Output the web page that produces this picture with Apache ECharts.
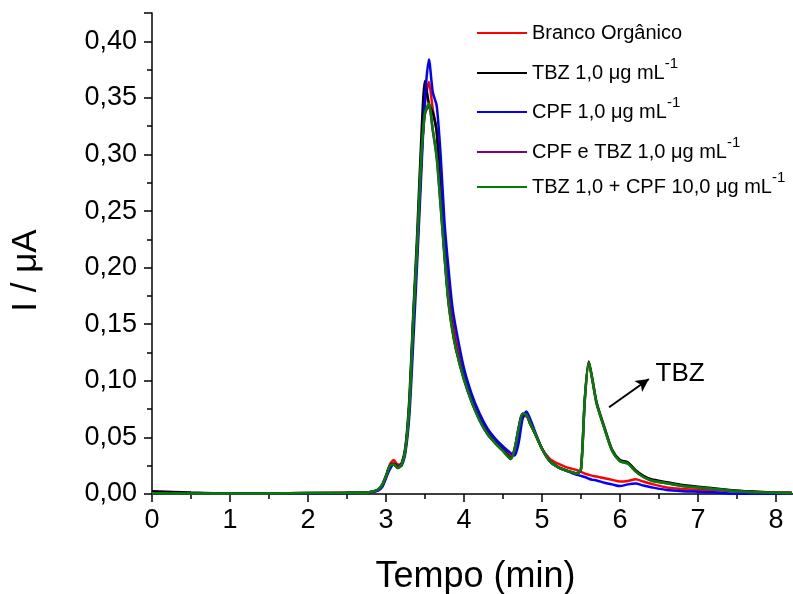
<!DOCTYPE html>
<html><head><meta charset="utf-8">
<script src="https://cdn.jsdelivr.net/npm/echarts@6/dist/echarts.min.js"></script>
<style>html,body{margin:0;padding:0;background:#fff}#c{width:793px;height:594px}</style>
</head><body><div id="c"></div>
<script>
const tempo = [0, 0.5, 1.0, 1.5, 2.0, 2.5, 2.7, 2.8, 2.9, 2.95, 3.0, 3.05, 3.1, 3.15, 3.2, 3.25, 3.3, 3.35, 3.4, 3.45, 3.5, 3.55, 3.6, 3.65, 3.7, 3.75, 3.8, 3.85, 3.9, 4.0, 4.1, 4.2, 4.3, 4.4, 4.5, 4.6, 4.65, 4.7, 4.75, 4.8, 4.85, 4.9, 5.0, 5.1, 5.2, 5.3, 5.4, 5.45, 5.5, 5.55, 5.6, 5.65, 5.7, 5.8, 5.9, 6.0, 6.1, 6.2, 6.3, 6.4, 6.6, 6.8, 7.0, 7.2, 7.4, 7.6, 7.8, 8.0, 8.2];

const branco = [0.0003, 0.0003, 0.0002, 0.0004, 0.0006, 0.001, 0.0012, 0.0016, 0.0035, 0.007, 0.015, 0.026, 0.030, 0.026, 0.027, 0.040, 0.078, 0.150, 0.215, 0.290, 0.345, 0.364, 0.340, 0.320, 0.280, 0.225, 0.185, 0.158, 0.135, 0.106, 0.086, 0.069, 0.056, 0.047, 0.040, 0.034, 0.036, 0.052, 0.068, 0.069, 0.062, 0.055, 0.040, 0.031, 0.027, 0.024, 0.022, 0.021, 0.0195, 0.018, 0.017, 0.016, 0.0155, 0.014, 0.0125, 0.011, 0.0115, 0.013, 0.011, 0.009, 0.0058, 0.0045, 0.0038, 0.0033, 0.0027, 0.0022, 0.0017, 0.0012, 0.001];

const tbz = [0.0025, 0.0013, 0.0004, 0.0005, 0.0008, 0.001, 0.0012, 0.0018, 0.004, 0.008, 0.016, 0.025, 0.027, 0.024, 0.027, 0.042, 0.085, 0.160, 0.230, 0.310, 0.365, 0.345, 0.337, 0.320, 0.262, 0.213, 0.172, 0.147, 0.128, 0.102, 0.082, 0.066, 0.054, 0.046, 0.039, 0.032, 0.040, 0.058, 0.071, 0.070, 0.062, 0.055, 0.040, 0.029, 0.024, 0.021, 0.019, 0.018, 0.022, 0.085, 0.117, 0.100, 0.081, 0.059, 0.039, 0.030, 0.028, 0.021, 0.016, 0.013, 0.0105, 0.008, 0.0065, 0.005, 0.0035, 0.0025, 0.0018, 0.0012, 0.001];

const cpf = [0.0003, 0.0002, 0.0002, 0.0003, 0.0005, 0.0008, 0.001, 0.0014, 0.003, 0.006, 0.014, 0.022, 0.026, 0.024, 0.025, 0.037, 0.070, 0.135, 0.205, 0.280, 0.350, 0.384, 0.355, 0.343, 0.300, 0.240, 0.200, 0.166, 0.145, 0.111, 0.088, 0.071, 0.058, 0.049, 0.042, 0.036, 0.034, 0.045, 0.066, 0.073, 0.066, 0.057, 0.040, 0.029, 0.024, 0.021, 0.018, 0.017, 0.016, 0.015, 0.0135, 0.0125, 0.012, 0.010, 0.0085, 0.007, 0.0085, 0.0092, 0.0075, 0.006, 0.0035, 0.0025, 0.002, 0.0015, 0.0005, 0.0003, 0.0002, 0.0002, 0.0002];

const cpfTbz = [0.0006, 0.0005, 0.0004, 0.0005, 0.0008, 0.001, 0.0012, 0.0018, 0.004, 0.008, 0.016, 0.025, 0.026, 0.023, 0.026, 0.040, 0.080, 0.155, 0.220, 0.295, 0.336, 0.343, 0.321, 0.297, 0.255, 0.210, 0.170, 0.145, 0.127, 0.101, 0.081, 0.065, 0.053, 0.045, 0.038, 0.031, 0.040, 0.058, 0.071, 0.070, 0.062, 0.055, 0.040, 0.029, 0.024, 0.021, 0.019, 0.018, 0.022, 0.085, 0.116, 0.099, 0.080, 0.058, 0.038, 0.029, 0.027, 0.020, 0.015, 0.012, 0.0095, 0.007, 0.0058, 0.0045, 0.003, 0.002, 0.0015, 0.001, 0.0008];

const tbzCpf10 = [0.0006, 0.0005, 0.0004, 0.0005, 0.0008, 0.001, 0.0012, 0.0018, 0.004, 0.008, 0.016, 0.025, 0.026, 0.023, 0.026, 0.040, 0.080, 0.155, 0.220, 0.295, 0.337, 0.345, 0.322, 0.298, 0.255, 0.210, 0.170, 0.145, 0.127, 0.101, 0.081, 0.065, 0.053, 0.045, 0.038, 0.031, 0.040, 0.058, 0.071, 0.070, 0.062, 0.055, 0.040, 0.029, 0.024, 0.021, 0.019, 0.018, 0.022, 0.085, 0.116, 0.099, 0.080, 0.058, 0.038, 0.029, 0.027, 0.020, 0.015, 0.012, 0.0095, 0.007, 0.0058, 0.0045, 0.003, 0.002, 0.0015, 0.001, 0.0008];

const seriesNames = ['Branco Orgânico', 'TBZ 1,0 μg mL-1', 'CPF 1,0 μg mL-1', 'CPF e TBZ 1,0 μg mL-1', 'TBZ 1,0 + CPF 10,0 μg mL-1'];
const seriesValues = [branco, tbz, cpf, cpfTbz, tbzCpf10];
const seriesColors = ['#ff0000', '#000000', '#0000ff', '#800080', '#008000'];

const arrowFrom = [5.86, 0.0766];
const arrowTo = [6.37, 0.1016];
const annotationPos = [6.77, 0.106];
const annotationText = 'TBZ';

const FONT = '"Liberation Sans", Arial, sans-serif';
const legendRowCenters = [33, 73, 112, 152, 187];

const chart = echarts.init(document.getElementById('c'), null, {renderer: 'canvas'});

const series = seriesNames.map((name, i) => {
  const s = {
    name: name,
    type: 'line',
    data: tempo.map((t, k) => [t, seriesValues[i][k]]),
    showSymbol: false,
    symbol: 'none',
    smooth: 0.25,
    lineStyle: {color: seriesColors[i], width: 2.5},
    itemStyle: {color: seriesColors[i]},
    z: 2 + i,
    animation: false
  };
  if (i === 4) {
    s.markLine = {
      silent: true,
      symbol: ['none', 'arrow'],
      symbolSize: [10, 13],
      label: {show: false},
      lineStyle: {color: '#000', width: 2, type: 'solid'},
      data: [[{coord: arrowFrom}, {coord: arrowTo}]],
      animation: false
    };
    s.markPoint = {
      silent: true,
      symbol: 'circle',
      symbolSize: 0,
      data: [{coord: annotationPos, value: annotationText}],
      label: {show: true, position: 'inside', formatter: annotationText, fontSize: 26, color: '#000', fontFamily: FONT},
      animation: false
    };
  }
  return s;
});

const legends = seriesNames.map((name, i) => ({
  data: [name],
  left: 477,
  top: legendRowCenters[i] - 17,
  orient: 'vertical',
  padding: 0,
  itemWidth: 50,
  itemHeight: 2,
  icon: 'rect',
  selectedMode: false,
  formatter: n => n.replace(/-1$/, '{s|-1}'),
  textStyle: {
    fontSize: 20, lineHeight: 34, color: '#000', fontFamily: FONT,
    rich: {s: {fontSize: 15, lineHeight: 14, verticalAlign: 'top', color: '#000', fontFamily: FONT}}
  }
}));

chart.setOption({
  animation: false,
  backgroundColor: '#fff',
  legend: legends,
  grid: {left: 152, top: 13, right: -22, bottom: 100, containLabel: false, outerBoundsMode: 'none'},
  xAxis: {
    type: 'value', min: 0, max: 8.5, interval: 1,
    name: 'Tempo (min)', nameLocation: 'middle', nameGap: 65,
    nameTextStyle: {fontSize: 36, color: '#000', fontFamily: FONT, padding: [0, 16, 0, 0]},
    axisLine: {show: true, onZero: false, lineStyle: {color: '#000', width: 1.5}},
    axisTick: {show: true, length: 8, lineStyle: {color: '#000', width: 1.5}},
    minorTick: {show: true, splitNumber: 2, length: 5, lineStyle: {color: '#000', width: 1.5}},
    splitLine: {show: false},
    axisLabel: {fontSize: 27, color: '#000', fontFamily: FONT, margin: 13, showMaxLabel: false, formatter: v => String(v)}
  },
  yAxis: {
    type: 'value', min: 0, max: 0.425, interval: 0.05,
    name: 'I / μA', nameLocation: 'middle', nameGap: 108, nameRotate: 90,
    nameTextStyle: {fontSize: 35, color: '#000', fontFamily: FONT, padding: [0, 34, 0, 0]},
    axisLine: {show: true, lineStyle: {color: '#000', width: 1.5}},
    axisTick: {show: true, length: 8, lineStyle: {color: '#000', width: 1.5}},
    minorTick: {show: true, splitNumber: 2, length: 5, lineStyle: {color: '#000', width: 1.5}},
    splitLine: {show: false},
    axisLabel: {fontSize: 27, color: '#000', fontFamily: FONT, margin: 15, showMaxLabel: false,
      formatter: v => v.toFixed(2).replace('.', ',')}
  },
  series: series
});
</script>
</body></html>
